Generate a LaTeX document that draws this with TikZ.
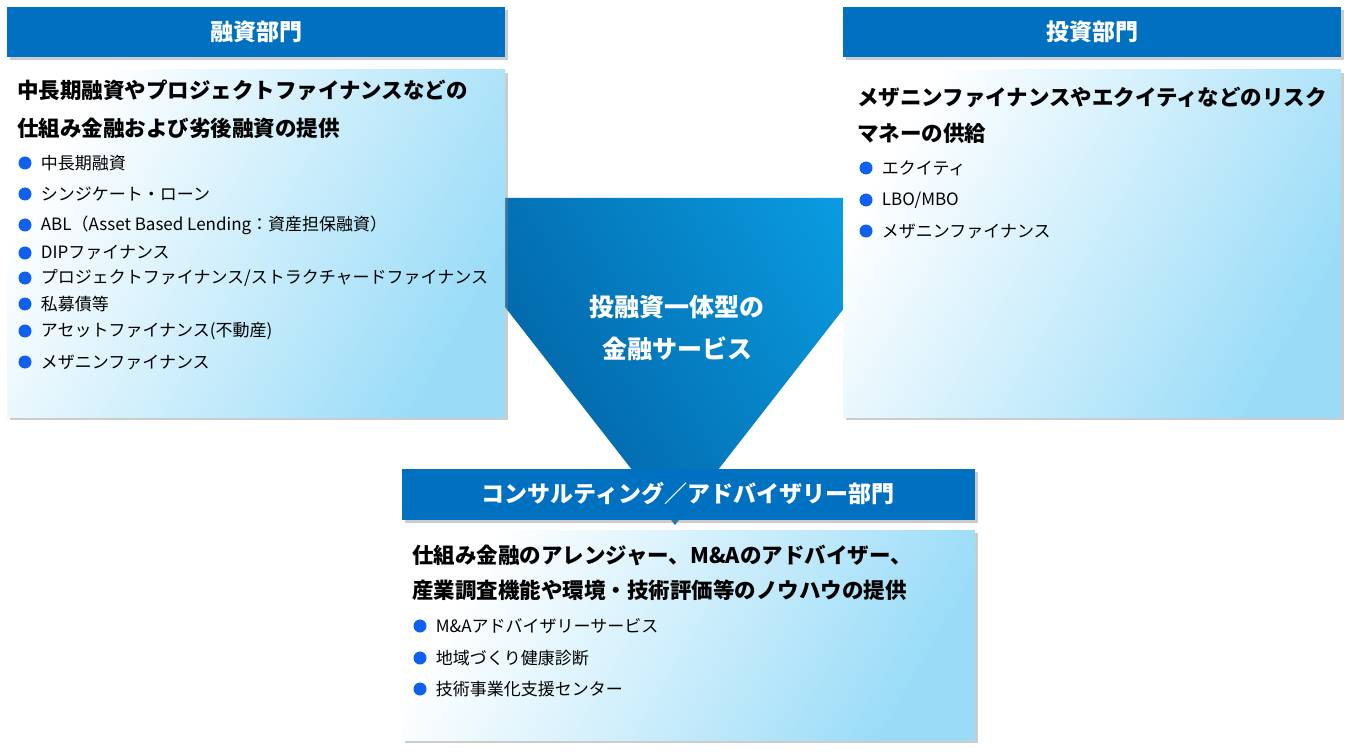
\documentclass[tikz,border=0pt]{standalone}
\usepackage{fontspec}
\setmainfont{Noto Sans CJK JP}
\usetikzlibrary{shadows}
\definecolor{hdr}{HTML}{0070C0}
\definecolor{boxlo}{HTML}{9ADCF8}
\definecolor{bul}{HTML}{1060F0}
\definecolor{trihi}{HTML}{005C9E}
\definecolor{trilo}{HTML}{0A9BE0}
\tikzset{
 hdrbox/.style={fill=hdr,draw=none,drop shadow={shadow xshift=3pt,shadow yshift=-3pt,opacity=0.4}},
 bodybox/.style={shading=axis,left color=white,right color=boxlo,shading angle=60,draw=none,drop shadow={shadow xshift=3pt,shadow yshift=-3pt,opacity=0.4}},
 hdrtxt/.style={text=white,font=\bfseries\fontsize{23}{26}\selectfont},
 ttl/.style={anchor=west,inner sep=0,font=\bfseries\fontsize{21.5}{24}\selectfont},
 itm/.style={anchor=west,inner sep=0,font=\fontsize{17}{20}\selectfont},
 dot/.style={circle,fill=bul,inner sep=0,minimum size=13pt}
}
\newcommand{\bitem}[4]{\node[dot] (#1d) at (#2,#3) {}; \node[itm] (#1) at ([xshift=9pt]#1d.east) {#4};}
\begin{document}
\begin{tikzpicture}[x=1pt,y=-1pt]
\useasboundingbox (0,0) rectangle (1357,754);
% triangle
\shade[shading=axis,left color=trihi,right color=trilo,shading angle=120] (420,198) -- (930,198) -- (675,525) -- cycle;
\node[text=white,font=\bfseries\fontsize{25}{42}\selectfont,align=center] (tri) at (677,328) {投融資一体型の\\金融サービス};
% left
\path[hdrbox] (7,7) rectangle (505,57);
\node[hdrtxt] (lh) at (256,32) {融資部門};
\path[bodybox] (7,70) rectangle (505,417);
\node[ttl] (lt1) at (17,90) {中長期融資やプロジェクトファイナンスなどの};
\node[ttl] (lt2) at (17,128) {仕組み金融および劣後融資の提供};
\bitem{l1}{25}{163}{中長期融資}
\bitem{l2}{25}{194}{シンジケート・ローン}
\bitem{l3}{25}{225}{ABL（Asset Based Lending：資産担保融資）}
\bitem{l4}{25}{253}{DIPファイナンス}
\bitem{l5}{25}{278}{プロジェクトファイナンス/ストラクチャードファイナンス}
\bitem{l6}{25}{304}{私募債等}
\bitem{l7}{25}{331}{アセットファイナンス(不動産)}
\bitem{l8}{25}{362}{メザニンファイナンス}
% right
\path[hdrbox] (843,7) rectangle (1341,57);
\node[hdrtxt] (rh) at (1092,32) {投資部門};
\path[bodybox] (843,70) rectangle (1341,417);
\node[ttl] (rt1) at (857,97) {メザニンファイナンスやエクイティなどのリスク};
\node[ttl] (rt2) at (857,133) {マネーの供給};
\bitem{r1}{866}{168}{エクイティ}
\bitem{r2}{866}{200}{LBO/MBO}
\bitem{r3}{866}{231}{メザニンファイナンス}
% bottom
\path[bodybox] (402,530) rectangle (975,740);
\path[hdrbox] (402,469) rectangle (975,520);
\node[hdrtxt] (bh) at (688,494) {コンサルティング／アドバイザリー部門};
\node[ttl] (bt1) at (412,555) {仕組み金融のアレンジャー、M\&Aのアドバイザー、};
\node[ttl] (bt2) at (412,590) {産業調査機能や環境・技術評価等のノウハウの提供};
\bitem{b1}{420}{626}{M\&Aアドバイザリーサービス}
\bitem{b2}{420}{658}{地域づくり健康診断}
\bitem{b3}{420}{689}{技術事業化支援センター}
\end{tikzpicture}
\end{document}
